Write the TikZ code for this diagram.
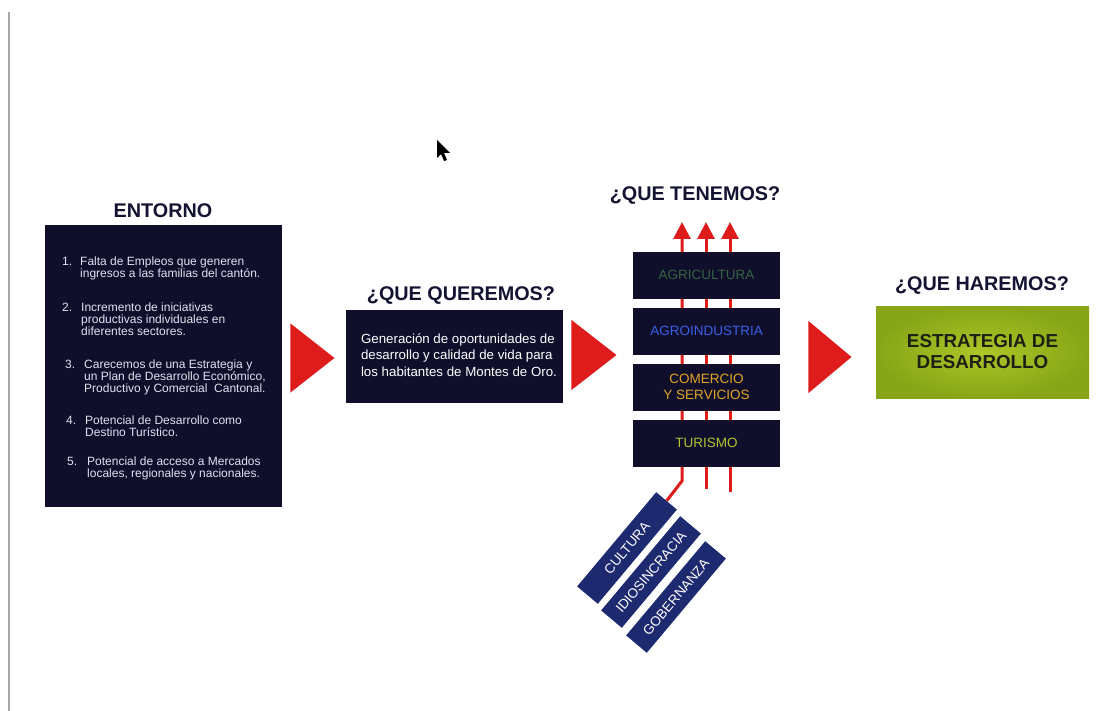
\documentclass[tikz,border=0pt]{standalone}
\usepackage{fontspec}
\setmainfont{Liberation Sans}
\usetikzlibrary{shapes.geometric,arrows.meta,backgrounds}

\definecolor{navy}{RGB}{15,15,44}
\definecolor{deepblue}{RGB}{30,42,112}
\definecolor{headblue}{RGB}{20,20,50}
\definecolor{itemtext}{RGB}{225,225,240}
\definecolor{arrowred}{RGB}{222,28,28}
\definecolor{agrigreen}{RGB}{55,98,64}
\definecolor{agroblue}{RGB}{60,95,230}
\definecolor{comgold}{RGB}{228,165,35}
\definecolor{turgreen}{RGB}{180,195,45}

\begin{document}
\begin{tikzpicture}[x=1pt,y=-1pt,node distance=56pt]

% definitions
\tikzstyle{heading} = [font=\fontsize{19.8}{22}\selectfont\bfseries, text=headblue]

\tikzstyle{item} = [anchor=north west, align=left, inner sep=0pt, text=itemtext, font=\fontsize{12}{12}\selectfont]

\tikzstyle{darkbox} = [rectangle, fill=navy, text=white, inner sep=0pt]

\tikzstyle{sector} = [rectangle, minimum width=147pt, minimum height=47pt, fill=navy, text centered, inner sep=0pt, font=\fontsize{13.5}{16}\selectfont]

\tikzstyle{rotbox} = [rectangle, minimum width=123pt, minimum height=27pt, fill=deepblue, text=white, rotate=50, inner sep=0pt, font=\fontsize{13.5}{15}\selectfont]

\tikzstyle{redtri} = [isosceles triangle, isosceles triangle stretches, fill=arrowred, inner sep=0pt, anchor=apex]

\tikzstyle{uparrow} = [draw=arrowred, line width=3pt, -{Triangle[width=17pt,length=17pt]}]

\useasboundingbox (0,0) rectangle (1099,711);
\draw[gray!70, line width=1.5pt] (9,12) -- (9,711);

% mouse pointer
\fill[black] (437,140) -- (437,158) -- (441,154) -- (444,161) -- (447,160) -- (444,153) -- (450,153) -- cycle;

% entorno
\node (h1) [heading] at (163,211) {ENTORNO};
\node (env) [darkbox, minimum width=237pt, minimum height=282pt] at (163.5,366) {};

\node (e1) [item] at (62,257) {\makebox[18pt][l]{1.}Falta de Empleos que generen\\\hspace*{18pt}ingresos a las familias del cantón.};
\node (e2) [item] at (62,303) {\makebox[19pt][l]{2.}Incremento de iniciativas\\\hspace*{19pt}productivas individuales en\\\hspace*{19pt}diferentes sectores.};
\node (e3) [item] at (65,360) {\makebox[19pt][l]{3.}Carecemos de una Estrategia y\\\hspace*{19pt}un Plan de Desarrollo Económico,\\\hspace*{19pt}Productivo y Comercial\ \ Cantonal.};
\node (e4) [item] at (66,416) {\makebox[19pt][l]{4.}Potencial de Desarrollo como\\\hspace*{19pt}Destino Turístico.};
\node (e5) [item] at (67,457) {\makebox[20pt][l]{5.}Potencial de acceso a Mercados\\\hspace*{20pt}locales, regionales y nacionales.};

\node (tri1) [redtri, minimum height=44pt, minimum width=69pt] at (335,358) {};

% que queremos
\node (h2) [heading] at (461,296) {¿QUE QUEREMOS?};
\node (want) [darkbox, minimum width=217pt, minimum height=93pt] at (454.5,356.5) {};
\node (wanttext) [align=left, inner sep=0pt, text=white, font=\fontsize{13.3}{16.5}\selectfont] at (459,355) {Generación de oportunidades de\\desarrollo y calidad de vida para\\los habitantes de Montes de Oro.};

\node (tri2) [redtri, minimum height=45pt, minimum width=70pt] at (617,355) {};

% que tenemos
\node (h3) [heading] at (695,196) {¿QUE TENEMOS?};
\node (s1) [sector, text=agrigreen] at (706.5,275) {AGRICULTURA};
\node (s2) [sector, text=agroblue, below of=s1] {AGROINDUSTRIA};
\node (s3) [sector, text=comgold, below of=s2, align=center] {COMERCIO\\Y SERVICIOS};
\node (s4) [sector, text=turgreen, below of=s3] {TURISMO};

\node (cul) [rotbox] at (627,548) {CULTURA};
\node (idi) [rotbox] at (651,572) {IDIOSINCRACIA};
\node (gob) [rotbox] at (676,597) {GOBERNANZA};

\coordinate (t1) at (682,222);
\coordinate (t2) at (706,222);
\coordinate (t3) at (730,222);
\coordinate (b1) at (682,481);
\coordinate (b2) at (706,489);
\coordinate (b3) at (730,492);

\begin{pgfonlayer}{background}
\fill[white] (0,0) rectangle (1099,711);
\draw [uparrow] (cul.east) -- (b1) -- (t1);
\draw [uparrow] (b2) -- (t2);
\draw [uparrow] (b3) -- (t3);
\end{pgfonlayer}

\node (tri3) [redtri, minimum height=43pt, minimum width=72pt] at (852,357) {};

% que haremos
\node (h4) [heading] at (982,286) {¿QUE HAREMOS?};
\node (plan) [rectangle, minimum width=213pt, minimum height=92pt, inner color={rgb,255:red,172;green,198;blue,40}, outer color={rgb,255:red,135;green,165;blue,22}, text={rgb,255:red,30;green,32;blue,20}, align=center, font=\fontsize{18.8}{21}\selectfont\bfseries] at (982.5,352) {ESTRATEGIA DE\\DESARROLLO};

\end{tikzpicture}
\end{document}
